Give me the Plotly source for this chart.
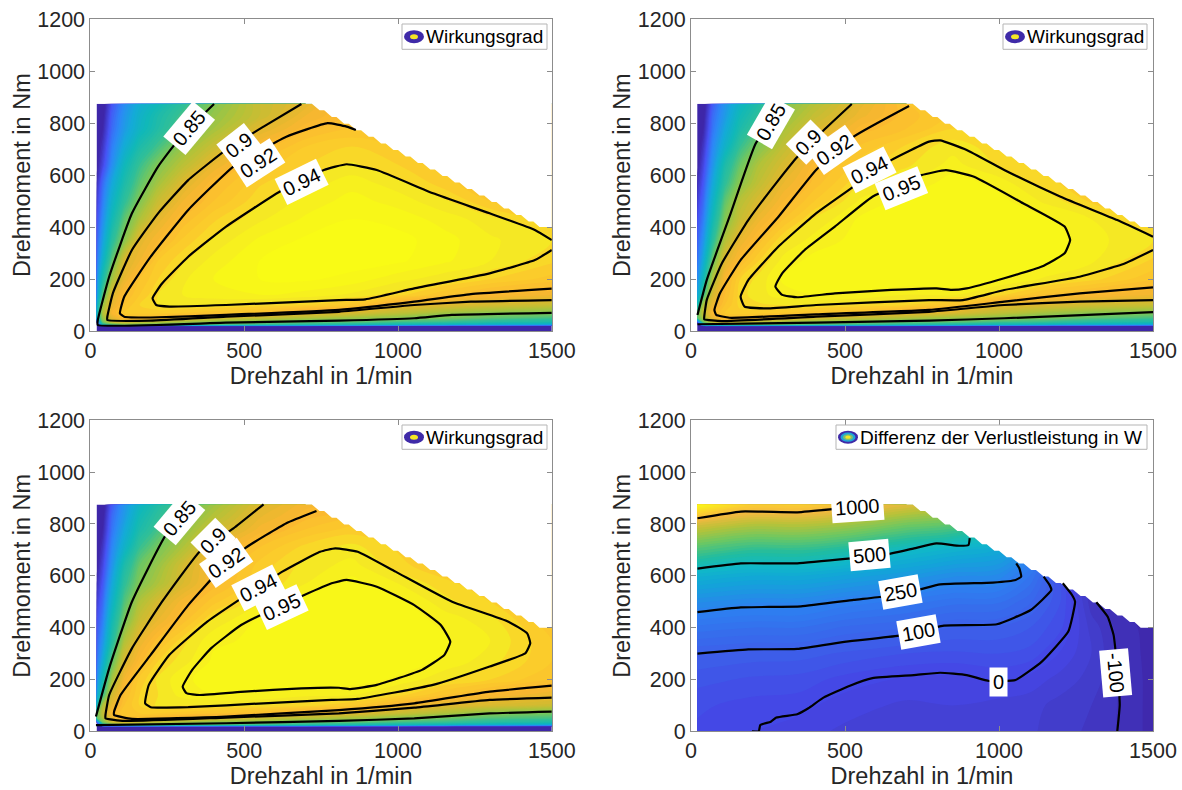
import numpy as np
import plotly.graph_objects as go

W, H = 1182, 790
SPEED = [20, 40, 70, 110, 160, 220, 300, 400, 550, 700, 850, 1000, 1150, 1300, 1500]
TORQUE = [0, 17, 20, 25, 35, 50, 70, 100, 140, 200, 270, 350, 430, 500, 570, 640, 710, 780, 830, 875]

LOW_ROWS = [
    [600] * 15,
    [640] * 15,
    [600, 720, 730, 735, 735, 735, 730, 730, 725, 725, 720, 715, 710, 705, 700],
    [650, 800, 830, 850, 845, 840, 835, 830, 820, 810, 800, 790, 780, 770, 760],
    [700, 840, 885, 895, 885, 875, 865, 855, 851, 840, 835, 825, 820, 810, 800],
]
ETA_1 = LOW_ROWS + [
    [780, 860, 900, 920, 921, 915, 905, 895, 882, 872, 862, 853, 845, 835, 825],
    [780, 870, 915, 930, 932, 932, 930, 927, 923, 905, 895, 880, 865, 855, 850],
    [770, 860, 905, 925, 935, 940, 941, 940, 938, 935, 928, 905, 898, 892, 885],
    [750, 830, 897, 919, 930, 940, 945, 948, 950, 948, 944, 937, 926, 917, 911],
    [740, 800, 865, 905, 925, 935, 944, 950, 955, 956, 953, 947, 942, 935, 928],
    [725, 775, 835, 895, 910, 930, 939, 947, 955, 958, 958, 956, 951, 945, 936],
    [715, 755, 810, 853, 901, 915, 931, 941, 951, 956, 958, 957, 952, 946, 940],
    [705, 740, 790, 835, 870, 902, 921, 934, 944, 951, 955, 953, 948, 942, 932],
    [695, 730, 775, 815, 850, 885, 910, 925, 939, 947, 952, 948, 941, 930, 925],
    [685, 720, 760, 800, 835, 865, 897, 919, 934, 942, 948, 942, 932, 925, 920],
    [675, 700, 740, 785, 820, 849, 876, 905, 927, 935, 941, 935, 930, 925, 920],
    [670, 690, 730, 765, 800, 825, 858, 885, 916, 930, 935, 930, 925, 920, 920],
    [665, 680, 720, 750, 780, 805, 835, 865, 899, 918, 925, 925, 925, 920, 920],
    [660, 675, 715, 745, 775, 800, 825, 858, 885, 910, 922, 925, 925, 920, 920],
    [650, 670, 708, 738, 768, 788, 815, 850, 885, 902, 925, 935, 930, 925, 920],
]
ETA_2 = LOW_ROWS + [
    [830, 870, 905, 920, 920, 915, 905, 895, 882, 872, 862, 853, 845, 835, 825],
    [840, 880, 917, 930, 933, 932, 930, 927, 923, 907, 897, 880, 865, 855, 850],
    [790, 870, 907, 925, 937, 939, 940, 940, 938, 935, 925, 902, 896, 890, 885],
    [760, 820, 893, 920, 938, 943, 948, 950, 949, 945, 946, 937, 924, 917, 910],
    [740, 790, 870, 915, 935, 942, 951, 953, 954, 954, 954, 951, 944, 937, 926],
    [725, 765, 840, 899, 920, 935, 947, 952, 954, 955, 955, 954, 952, 946, 934],
    [715, 745, 810, 872, 905, 922, 940, 947, 952, 954, 955, 955, 953, 947, 940],
    [705, 730, 790, 850, 885, 908, 925, 941, 951, 953, 954, 954, 951, 945, 932],
    [695, 720, 775, 835, 875, 895, 915, 930, 946, 952, 953, 952, 944, 934, 925],
    [685, 710, 760, 815, 855, 880, 905, 922, 940, 945, 953, 948, 937, 930, 925],
    [675, 700, 745, 800, 840, 870, 893, 917, 933, 939, 947, 939, 933, 925, 920],
    [670, 690, 735, 775, 820, 850, 880, 905, 926, 936, 943, 937, 930, 925, 920],
    [665, 680, 725, 760, 800, 830, 867, 893, 917, 925, 935, 935, 930, 930, 920],
    [660, 675, 720, 750, 790, 815, 857, 882, 908, 923, 930, 930, 930, 925, 920],
    [650, 670, 712, 745, 780, 805, 850, 873, 903, 925, 930, 930, 930, 930, 920],
]
ETA_3 = LOW_ROWS + [
    [830, 870, 905, 920, 920, 915, 905, 897, 885, 875, 867, 852, 840, 830, 825],
    [840, 880, 915, 930, 930, 930, 928, 925, 922, 910, 900, 885, 870, 853, 845],
    [790, 870, 905, 925, 935, 941, 940, 940, 940, 937, 930, 915, 899, 894, 887],
    [760, 820, 890, 920, 935, 940, 947, 950, 949, 946, 945, 937, 925, 915, 905],
    [740, 790, 865, 912, 932, 941, 949, 952, 953, 953, 953, 949, 941, 935, 925],
    [725, 765, 835, 895, 918, 935, 943, 951, 953, 954, 954, 953, 949, 942, 930],
    [715, 745, 805, 870, 905, 923, 938, 949, 951, 953, 954, 954, 951, 945, 930],
    [705, 730, 790, 845, 885, 905, 922, 941, 951, 952, 954, 954, 948, 942, 925],
    [695, 720, 775, 830, 870, 893, 913, 928, 944, 953, 954, 952, 942, 935, 925],
    [685, 710, 760, 815, 850, 870, 895, 917, 935, 945, 952, 945, 937, 930, 925],
    [675, 700, 745, 800, 840, 860, 890, 915, 932, 942, 947, 937, 930, 925, 920],
    [670, 690, 735, 775, 820, 845, 870, 905, 925, 937, 942, 934, 925, 920, 920],
    [665, 680, 725, 760, 800, 825, 855, 885, 912, 925, 932, 932, 925, 920, 920],
    [660, 675, 720, 750, 790, 815, 845, 873, 904, 918, 924, 925, 920, 920, 920],
    [650, 670, 712, 745, 780, 805, 835, 863, 897, 913, 915, 920, 920, 920, 920],
]
DIFF_SPEED = [20, 200, 350, 500, 700, 850, 1000, 1100, 1200, 1300, 1400, 1500]
DIFF_TORQUE = [0, 100, 200, 300, 400, 500, 600, 700, 800, 875]
DIFF = [
    [20, 0, -15, -30, -30, -30, -35, -45, -65, -80, -105, -135],
    [30, 15, 10, -15, -30, -25, -35, -40, -60, -75, -105, -135],
    [60, 45, 40, 15, -5, -10, 3, -10, -35, -60, -105, -135],
    [100, 90, 88, 70, 50, 45, 50, 40, -3, -50, -110, -135],
    [190, 175, 175, 145, 125, 100, 95, 75, 30, -60, -115, -135],
    [305, 280, 280, 245, 215, 185, 180, 130, 50, -90, -125, -135],
    [458, 425, 425, 395, 350, 305, 290, 200, 50, -110, -135, -140],
    [685, 625, 630, 590, 510, 465, 420, 300, 100, -110, -135, -140],
    [940, 875, 880, 845, 760, 720, 600, 400, 200, 0, -100, -140],
    [1250, 1090, 1090, 1040, 960, 900, 750, 500, 300, 100, -100, -140],
]

LIMIT_SPEED = [700, 720, 745, 760, 785, 800, 825, 840, 865, 880, 905, 920, 945, 960, 985, 1000, 1025, 1040, 1065,
               1080, 1105, 1120, 1145, 1160, 1185, 1200, 1225, 1240, 1265, 1280, 1305, 1320, 1345, 1360, 1385, 1400,
               1425, 1440, 1460, 1500]
LIMIT_TORQUE = [875, 875, 850, 850, 824, 824, 798, 798, 773, 773, 748, 748, 722, 722, 697, 697, 672, 672, 647,
                647, 622, 622, 597, 597, 572, 572, 547, 547, 522, 522, 497, 497, 472, 472, 447, 447,
                422, 422, 400, 400]

P1_LINES = [
    ([402, 294, 220, 135, 61, 24, 24, 440, 808, 1053, 1175, 1500], [874, 748, 633, 453, 209, 42, 23, 32, 40, 49, 62, 70]),
    ([686, 563, 441, 318, 220, 135, 73, 55, 55, 196, 441, 808, 1053, 1237, 1500], [874, 787, 697, 581, 453, 312, 145, 55, 42, 40, 55, 74, 100, 113, 119]),
    ([863, 833, 771, 637, 465, 318, 196, 110, 96, 110, 196, 441, 808, 1053, 1237, 1500], [774, 787, 800, 748, 633, 466, 286, 132, 68, 55, 52, 62, 81, 113, 142, 163]),
    ([1500, 1445, 1298, 1114, 931, 833, 759, 624, 441, 318, 233, 202, 214, 257, 441, 808, 894, 1053, 1298, 1445, 1500],
     [350, 389, 453, 530, 620, 642, 620, 543, 402, 286, 183, 126, 100, 94, 100, 119, 122, 164, 222, 273, 312]),
]
P2_LINES = [
    ([302, 210, 125, 51, 21], [874, 722, 440, 196, 62]),
    ([522, 430, 345, 284, 186, 100, 51, 43, 43, 100, 406, 773, 1017, 1262, 1500], [874, 772, 670, 581, 427, 260, 119, 55, 45, 38, 55, 74, 100, 113, 119]),
    ([708, 528, 406, 284, 161, 94, 76, 82, 125, 406, 773, 1017, 1262, 1500], [866, 748, 620, 440, 273, 145, 81, 62, 51, 64, 81, 113, 145, 168]),
    ([1500, 1384, 1200, 1017, 895, 809, 773, 650, 528, 406, 284, 186, 161, 174, 247, 406, 773, 883, 1017, 1262, 1408, 1500],
     [363, 427, 517, 620, 697, 734, 729, 658, 556, 453, 325, 196, 132, 94, 87, 100, 119, 119, 158, 209, 260, 312]),
    ([274, 296, 369, 467, 589, 748, 828, 919, 1078, 1213, 1231, 1213, 1139, 1017, 895, 846, 797, 650, 467, 345, 296, 274],
     [171, 222, 312, 402, 517, 600, 619, 594, 492, 402, 350, 299, 248, 203, 164, 158, 164, 158, 145, 130, 139, 171]),
    ([21, 406, 773, 1017, 1500], [26, 32, 40, 49, 73]),
]
P3_LINES = [
    ([343, 245, 135, 61, 18], [880, 757, 500, 243, 57]),
    ([563, 465, 355, 233, 135, 61, 49, 49, 110, 441, 808, 1053, 1298, 1500], [876, 783, 693, 500, 320, 140, 63, 50, 40, 53, 69, 91, 121, 130]),
    ([735, 637, 502, 416, 318, 196, 98, 77, 77, 135, 441, 808, 1053, 1298, 1500], [850, 803, 706, 616, 487, 295, 140, 76, 63, 48, 57, 82, 108, 153, 176]),
    ([178, 190, 257, 380, 624, 747, 796, 869, 992, 1176, 1359, 1420, 1430, 1414, 1298, 1114, 869, 784, 563, 318, 196, 178],
     [108, 179, 295, 423, 616, 693, 706, 693, 616, 500, 423, 378, 340, 301, 250, 179, 125, 121, 108, 93, 93, 108]),
    ([300, 331, 392, 490, 600, 784, 833, 931, 1053, 1139, 1170, 1151, 1078, 931, 845, 808, 686, 502, 355, 312, 300],
     [172, 237, 320, 410, 475, 571, 584, 558, 487, 410, 346, 295, 237, 179, 163, 168, 166, 153, 140, 147, 172]),
    ([18, 441, 808, 1053, 1298, 1500], [24, 31, 40, 50, 69, 76]),
]
P4_LINES = [
    ([21, 162, 345, 467, 540, 600], [822, 848, 845, 858, 867, 875]),
    ([21, 162, 345, 528, 626, 724, 797, 871, 901, 905], [628, 648, 648, 668, 680, 706, 725, 716, 719, 745]),
    ([21, 162, 357, 528, 626, 736, 809, 980, 1054, 1072, 1066, 1056], [460, 478, 482, 507, 520, 545, 567, 574, 584, 597, 629, 648]),
    ([21, 186, 345, 504, 675, 821, 993, 1103, 1170, 1164, 1145], [300, 316, 318, 346, 369, 408, 413, 468, 545, 565, 597]),
    ([198, 220, 225, 259, 277, 345, 381, 430, 516, 589, 724, 809, 895, 968, 1054, 1139, 1225, 1247, 1237, 1207],
     [0, 0, 24, 37, 53, 66, 89, 130, 176, 205, 217, 226, 217, 194, 198, 269, 385, 500, 526, 571]),
    ([1384, 1392, 1385, 1372, 1353, 1316], [0, 102, 224, 372, 442, 498]),
]

P1_LABELS = [("0.85", 322, 780, -50), ("0.9", 484, 716, -38), ("0.92", 545, 645, -33), ("0.94", 686, 575, -26)]
P2_LABELS = [("0.85", 259, 806, -60), ("0.9", 381, 729, -45), ("0.92", 465, 697, -35), ("0.94", 579, 620, -27), ("0.95", 685, 549, -22)]
P3_LABELS = [("0.85", 291, 822, -50), ("0.9", 400, 738, -45), ("0.92", 441, 648, -35), ("0.94", 545, 552, -27), ("0.95", 622, 481, -25)]
P4_LABELS = [("1000", 540, 867, -4), ("500", 579, 680, -5), ("250", 681, 536, -10), ("100", 738, 382, -10), ("0", 999, 192, 0), ("-100", 1378, 224, 85)]

ETA_STOPS = [(0.68, "#3e26a8"), (0.708, "#4752f4"), (0.736, "#2d87f7"), (0.764, "#14aad8"), (0.79, "#10b8b8"),
             (0.82, "#30bf98"), (0.848, "#78c75a"), (0.876, "#b4c238"), (0.90, "#dcb92e"), (0.92, "#fbb730"),
             (0.94, "#fbd02a"), (0.946, "#f5e625"), (0.96, "#f9fb15")]
DIFF_STOPS = [(-150, "#3e26a8"), (-50, "#4340d0"), (0, "#4545e5"), (100, "#3c60ea"), (250, "#2d80f0"),
              (400, "#12a5d8"), (500, "#10b8c8"), (600, "#20bca0"), (750, "#70c860"), (875, "#b8c238"),
              (1000, "#f5b840"), (1100, "#fbd030"), (1250, "#f9fb15")]
TEXT = "#262626"
AXIS = "#8c8c8c"
FONT = "Liberation Sans"


def scale(stops):
    lo, hi = stops[0][0], stops[-1][0]
    return [[(v - lo) / (hi - lo), c] for v, c in stops]


PANELS = [
    (np.array(ETA_1) / 1000, SPEED, TORQUE, ETA_STOPS, 0.005, P1_LINES, P1_LABELS, "Wirkungsgrad"),
    (np.array(ETA_2) / 1000, SPEED, TORQUE, ETA_STOPS, 0.005, P2_LINES, P2_LABELS, "Wirkungsgrad"),
    (np.array(ETA_3) / 1000, SPEED, TORQUE, ETA_STOPS, 0.005, P3_LINES, P3_LABELS, "Wirkungsgrad"),
    (np.array(DIFF, dtype=float), DIFF_SPEED, DIFF_TORQUE, DIFF_STOPS, 25, P4_LINES, P4_LABELS, "Differenz der Verlustleistung in W"),
]
BOXES = [(90.4, 551.8, 19.3, 331), (691, 1153, 19.3, 331), (90.4, 551.8, 420.3, 731.3), (691, 1153, 420.3, 731.3)]
LEGENDS = [(402, 547, 24, 49.3), (1003, 1147, 24, 49.3), (402, 547, 425, 449.3), (836, 1147, 425, 449.3)]

fig = go.Figure()
layout = dict(width=W, height=H, margin=dict(l=0, r=0, t=0, b=0, autoexpand=False), autosize=False, showlegend=False,
              paper_bgcolor="white", plot_bgcolor="white", font=dict(family=FONT, color=TEXT, size=20))
shapes, annotations = [], []

for i, (z, xs, ys, stops, step, lines, labels, legend) in enumerate(PANELS):
    n = "" if i == 0 else str(i + 1)
    xa, ya = "x" + n, "y" + n
    l, r, t, b = BOXES[i]
    common = dict(showgrid=False, zeroline=False, showline=True, linecolor=AXIS, linewidth=1, mirror="ticks", automargin=True,
                  ticks="inside", ticklen=5, tickcolor=AXIS, tickwidth=1, tickfont=dict(size=21.5, color=TEXT, family=FONT))
    title_font = dict(size=23.5, color=TEXT, family=FONT)
    layout["xaxis" + n] = dict(domain=[l / W, r / W], range=[0, 1500], tickvals=[0, 500, 1000, 1500], anchor=ya,
                               title=dict(text="Drehzahl in 1/min", font=title_font, standoff=2), **common)
    layout["yaxis" + n] = dict(domain=[1 - b / H, 1 - t / H], range=[0, 1200], tickvals=list(range(0, 1201, 200)), anchor=xa,
                               title=dict(text="Drehmoment in Nm", font=title_font, standoff=0), **common)
    fig.add_trace(go.Contour(x=xs, y=ys, z=z, xaxis=xa, yaxis=ya, colorscale=scale(stops), zauto=False, zmin=stops[0][0],
                             zmax=stops[-1][0], autocontour=False, showscale=False, hoverinfo="skip",
                             contours=dict(coloring="fill", showlines=False, start=stops[0][0], end=stops[-1][0], size=step),
                             line=dict(width=0)))
    fig.add_trace(go.Scatter(x=LIMIT_SPEED + [1510, 1510, LIMIT_SPEED[0]], y=LIMIT_TORQUE + [LIMIT_TORQUE[-1], 900, 900],
                             xaxis=xa, yaxis=ya, mode="lines", fill="toself", fillcolor="white", line=dict(width=0),
                             hoverinfo="skip"))
    for lx, ly in lines:
        fig.add_trace(go.Scatter(x=lx, y=ly, xaxis=xa, yaxis=ya, mode="lines", hoverinfo="skip",
                                 line=dict(color="black", width=2.2, shape="spline", smoothing=0.4)))
    for text, lx, ly, ang in labels:
        annotations.append(dict(x=lx, y=ly, xref=xa, yref=ya, text=text, textangle=ang, showarrow=False, bgcolor="white",
                                borderpad=3, font=dict(size=20, color="black", family=FONT)))
    # legend box, marker and text
    x0, x1, y0, y1 = LEGENDS[i]
    fx = lambda px: (px - l) / (r - l)
    fy = lambda px: (b - px) / (b - t)
    dom = dict(xref=xa + " domain", yref=ya + " domain", layer="above")
    shapes.append(dict(type="rect", x0=fx(x0), x1=fx(x1), y0=fy(y1), y1=fy(y0), fillcolor="white",
                       line=dict(color="#b5b5b5", width=1), **dom))
    cx, cy = x0 + 12, (y0 + y1) / 2
    if i < 3:
        rings = [(10, 6.5, "#3f2aa8"), (4, 2.5, "#f5e625")]
    else:
        rings = [(10, 6.5, "#3f2aa8"), (7.5, 4.6, "#1fa5d8"), (5, 3, "#7cbf72"), (2.8, 1.7, "#f5e625")]
    for rx, ry, col in rings:
        shapes.append(dict(type="circle", x0=fx(cx - rx), x1=fx(cx + rx), y0=fy(cy + ry), y1=fy(cy - ry), fillcolor=col,
                           line=dict(width=0), **dom))
    annotations.append(dict(x=fx(x0 + 21.5), y=fy(cy), xref=xa + " domain", yref=ya + " domain", xanchor="left", yanchor="middle",
                            text=legend, showarrow=False, font=dict(size=19 if i < 3 else 19.1, color="black", family=FONT)))

fig.update_layout(shapes=shapes, annotations=annotations, **layout)
fig.write_html("out.html", post_script="document.body.style.margin='0';", config=dict(displayModeBar=False))
